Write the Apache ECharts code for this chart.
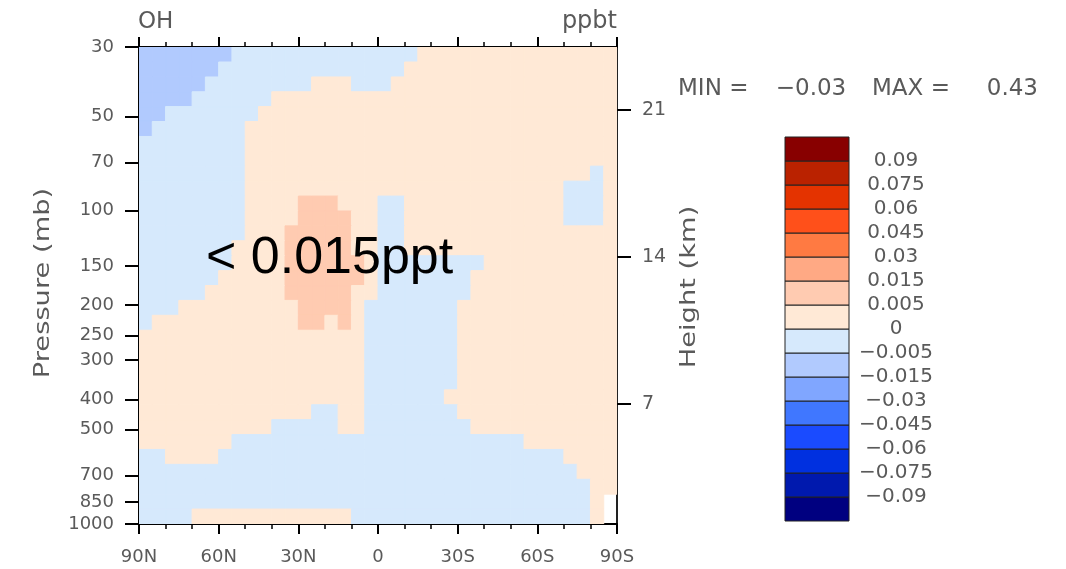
<!DOCTYPE html>
<html><head><meta charset="utf-8">
<script src="https://cdn.jsdelivr.net/npm/echarts@6/dist/echarts.min.js"></script>
<style>html,body{margin:0;padding:0;background:#fff}#c{width:1066px;height:569px}</style>
</head><body><div id="c"></div>
<script>
// ---- data ----
const latCenters = [87.5,82.5,77.5,72.5,67.5,62.5,57.5,52.5,47.5,42.5,37.5,32.5,27.5,22.5,17.5,12.5,7.5,2.5,
  -2.5,-7.5,-12.5,-17.5,-22.5,-27.5,-32.5,-37.5,-42.5,-47.5,-52.5,-57.5,-62.5,-67.5,-72.5,-77.5,-82.5,-87.5];
const pressureCenters = [31.7,35.4,39.5,44.0,49.1,54.8,61.2,68.2,76.1,85.0,94.8,105.8,118.0,131.7,147.0,164.0,
  183.0,204.1,227.8,254.2,283.6,316.4,353.1,393.9,439.6,490.5,547.3,610.6,681.4,760.3,848.3,946.6];
// OH difference (ppbt), rows = pressureCenters (top to bottom), columns = latCenters (90N to 90S)
const ohField = [
[-.01,-.01,-.01,-.01,-.01,-.01,-.01, -.002,-.002,-.002,-.002,-.002, -.002,-.002,-.002,-.002,-.002, -.002,-.002,-.002,-.002, .003,.003,.003,.003,.003, .003,.003,.003,.003,.003, .003,.003,.003,.003,.003],
[-.01,-.01,-.01,-.01,-.01,-.01, -.002,-.002,-.002,-.002,-.002, -.002,-.002,-.002,-.002,-.002, -.002,-.002,-.002,-.002, .003,.003,.003,.003,.003, .003,.003,.003,.003,.003, .003,.003,.003,.003,.003, .003],
[-.01,-.01,-.01,-.01,-.01, -.002,-.002,-.002,-.002,-.002, -.002,-.002,-.002, .003,.003,.003, -.002,-.002,-.002, .003,.003,.003,.003,.003, .003,.003,.003,.003,.003, .003,.003,.003,.003,.003, .003,.003],
[-.01,-.01,-.01,-.01, -.002,-.002,-.002,-.002,-.002, -.002, .003,.003,.003,.003,.003, .003,.003,.003,.003,.003, .003,.003,.003,.003,.003, .003,.003,.003,.003,.003, .003,.003,.003,.003,.003, .003],
[-.01,-.01, -.002,-.002,-.002,-.002,-.002, -.002,-.002, .003,.003,.003,.003,.003, .003,.003,.003,.003,.003, .003,.003,.003,.003,.003, .003,.003,.003,.003,.003, .003,.003,.003,.003,.003, .003,.003],
[-.01, -.002,-.002,-.002,-.002,-.002, -.002,-.002, .003,.003,.003,.003,.003, .003,.003,.003,.003,.003, .003,.003,.003,.003,.003, .003,.003,.003,.003,.003, .003,.003,.003,.003,.003, .003,.003,.003],
[-.002,-.002,-.002,-.002,-.002, -.002,-.002,-.002, .003,.003,.003,.003,.003, .003,.003,.003,.003,.003, .003,.003,.003,.003,.003, .003,.003,.003,.003,.003, .003,.003,.003,.003,.003, .003,.003,.003],
[-.002,-.002,-.002,-.002,-.002, -.002,-.002,-.002, .003,.003,.003,.003,.003, .003,.003,.003,.003,.003, .003,.003,.003,.003,.003, .003,.003,.003,.003,.003, .003,.003,.003,.003,.003, .003,.003,.003],
[-.002,-.002,-.002,-.002,-.002, -.002,-.002,-.002, .003,.003,.003,.003,.003, .003,.003,.003,.003,.003, .003,.003,.003,.003,.003, .003,.003,.003,.003,.003, .003,.003,.003,.003,.003, .003, -.002, .003],
[-.002,-.002,-.002,-.002,-.002, -.002,-.002,-.002, .003,.003,.003,.003,.003, .003,.003,.003,.003,.003, .003,.003,.003,.003,.003, .003,.003,.003,.003,.003, .003,.003,.003,.003, -.002,-.002,-.002, .003],
[-.002,-.002,-.002,-.002,-.002, -.002,-.002,-.002, .003,.003,.003,.003, .01,.01,.01, .003,.003,.003, -.002,-.002, .003,.003,.003,.003,.003, .003,.003,.003,.003,.003, .003,.003, -.002,-.002,-.002, .003],
[-.002,-.002,-.002,-.002,-.002, -.002,-.002,-.002, .003,.003,.003,.003, .01,.01,.01,.01, .003,.003, -.002,-.002, .003,.003,.003,.003,.003, .003,.003,.003,.003,.003, .003,.003, -.002,-.002,-.002, .003],
[-.002,-.002,-.002,-.002,-.002, -.002,-.002,-.002, .003,.003,.003, .01,.01,.01,.01,.01, .003,.003, -.002,-.002, .003,.003,.003,.003,.003, .003,.003,.003,.003,.003, .003,.003,.003,.003,.003, .003],
[-.002,-.002,-.002,-.002,-.002, -.002,-.002, .003,.003,.003,.003, .01,.01,.01,.01,.01, .003,.003, -.002,-.002, .003,.003,.003,.003,.003, .003,.003,.003,.003,.003, .003,.003,.003,.003,.003, .003],
[-.002,-.002,-.002,-.002,-.002, -.002,-.002, .003,.003,.003,.003, .01,.01,.01,.01,.01,.01, .003, -.002,-.002,-.002,-.002,-.002, -.002,-.002,-.002, .003,.003,.003,.003,.003, .003,.003,.003,.003,.003],
[-.002,-.002,-.002,-.002,-.002, -.002, .003,.003,.003,.003,.003, .01,.01,.01,.01,.01,.01, .003, -.002,-.002,-.002,-.002,-.002, -.002,-.002, .003,.003,.003,.003,.003, .003,.003,.003,.003,.003, .003],
[-.002,-.002,-.002,-.002,-.002, .003,.003,.003,.003,.003, .003, .01,.01,.01,.01,.01, .003,.003, -.002,-.002,-.002,-.002,-.002, -.002,-.002, .003,.003,.003,.003,.003, .003,.003,.003,.003,.003, .003],
[-.002,-.002,-.002, .003,.003,.003,.003,.003, .003,.003,.003,.003, .01,.01,.01,.01, .003, -.002,-.002,-.002,-.002,-.002, -.002,-.002, .003,.003,.003,.003,.003, .003,.003,.003,.003,.003, .003,.003],
[-.002, .003,.003,.003,.003,.003, .003,.003,.003,.003,.003, .003, .01,.01, .003, .01, .003, -.002,-.002,-.002,-.002,-.002, -.002,-.002, .003,.003,.003,.003,.003, .003,.003,.003,.003,.003, .003,.003],
[.003,.003,.003,.003,.003, .003,.003,.003,.003,.003, .003,.003,.003,.003,.003, .003,.003, -.002,-.002,-.002,-.002,-.002, -.002,-.002, .003,.003,.003,.003,.003, .003,.003,.003,.003,.003, .003,.003],
[.003,.003,.003,.003,.003, .003,.003,.003,.003,.003, .003,.003,.003,.003,.003, .003,.003, -.002,-.002,-.002,-.002,-.002, -.002,-.002, .003,.003,.003,.003,.003, .003,.003,.003,.003,.003, .003,.003],
[.003,.003,.003,.003,.003, .003,.003,.003,.003,.003, .003,.003,.003,.003,.003, .003,.003, -.002,-.002,-.002,-.002,-.002, -.002,-.002, .003,.003,.003,.003,.003, .003,.003,.003,.003,.003, .003,.003],
[.003,.003,.003,.003,.003, .003,.003,.003,.003,.003, .003,.003,.003,.003,.003, .003,.003, -.002,-.002,-.002,-.002,-.002, -.002,-.002, .003,.003,.003,.003,.003, .003,.003,.003,.003,.003, .003,.003],
[.003,.003,.003,.003,.003, .003,.003,.003,.003,.003, .003,.003,.003,.003,.003, .003,.003, -.002,-.002,-.002,-.002,-.002, -.002, .003,.003,.003,.003,.003, .003,.003,.003,.003,.003, .003,.003,.003],
[.003,.003,.003,.003,.003, .003,.003,.003,.003,.003, .003,.003,.003, -.002,-.002, .003,.003, -.002,-.002,-.002,-.002,-.002, -.002,-.002, .003,.003,.003,.003,.003, .003,.003,.003,.003,.003, .003,.003],
[.003,.003,.003,.003,.003, .003,.003,.003,.003,.003, -.002,-.002,-.002,-.002,-.002, .003,.003, -.002,-.002,-.002,-.002,-.002, -.002,-.002,-.002, .003,.003,.003,.003,.003, .003,.003,.003,.003,.003, .003],
[.003,.003,.003,.003,.003, .003,.003, -.002,-.002,-.002,-.002,-.002, -.002,-.002,-.002,-.002,-.002, -.002,-.002,-.002,-.002,-.002, -.002,-.002,-.002,-.002,-.002, -.002,-.002, .003,.003,.003,.003,.003, .003,.003],
[-.002,-.002, .003,.003,.003,.003, -.002,-.002,-.002,-.002,-.002, -.002,-.002,-.002,-.002,-.002, -.002,-.002,-.002,-.002,-.002, -.002,-.002,-.002,-.002,-.002, -.002,-.002,-.002,-.002,-.002, -.002, .003,.003,.003,.003],
[-.002,-.002,-.002,-.002,-.002, -.002,-.002,-.002,-.002,-.002, -.002,-.002,-.002,-.002,-.002, -.002,-.002,-.002,-.002,-.002, -.002,-.002,-.002,-.002,-.002, -.002,-.002,-.002,-.002,-.002, -.002,-.002,-.002, .003,.003,.003],
[-.002,-.002,-.002,-.002,-.002, -.002,-.002,-.002,-.002,-.002, -.002,-.002,-.002,-.002,-.002, -.002,-.002,-.002,-.002,-.002, -.002,-.002,-.002,-.002,-.002, -.002,-.002,-.002,-.002,-.002, -.002,-.002,-.002,-.002, .003,.003],
[-.002,-.002,-.002,-.002,-.002, -.002,-.002,-.002,-.002,-.002, -.002,-.002,-.002,-.002,-.002, -.002,-.002,-.002,-.002,-.002, -.002,-.002,-.002,-.002,-.002, -.002,-.002,-.002,-.002,-.002, -.002,-.002,-.002,-.002, .003, null],
[-.002,-.002,-.002,-.002, .003,.003,.003,.003,.003, .003,.003,.003,.003,.003, .003,.003, -.002,-.002,-.002,-.002,-.002, -.002,-.002,-.002,-.002,-.002, -.002,-.002,-.002,-.002,-.002, -.002,-.002,-.002, .003, null]
];
const pressureTicks = [30,50,70,100,150,200,250,300,400,500,700,850,1000];
const heightTicks = [7,14,21];
const levelBounds = [-0.09,-0.075,-0.06,-0.045,-0.03,-0.015,-0.005,0,0.005,0.015,0.03,0.045,0.06,0.075,0.09];
const levelColors = ['#000080','#0019AE','#0030E0','#1A4BFF','#4077FF','#80A6FF','#B1CAFE','#D6E9FC',
  '#FFE9D6','#FFCBB1','#FFA984','#FF7A42','#FF501A','#E43300','#BA2200','#880000'];
const fieldMin = -0.03, fieldMax = 0.43;
const annotation = '< 0.015ppt';

// ---- build ----
const log10 = Math.log10;
function edgesFrom(c){
  const n=c.length, e=[c[0]-(c[1]-c[0])/2];
  for(let k=1;k<n;k++) e.push((c[k-1]+c[k])/2);
  e.push(c[n-1]+(c[n-1]-c[n-2])/2);
  return e;
}
const lpCenters = pressureCenters.map(log10);
const latEdges = edgesFrom(latCenters);
const lpEdges = edgesFrom(lpCenters);
function colorOf(v){ let k=0; while(k<levelBounds.length && v>=levelBounds[k]) k++; return levelColors[k]; }
function fmtNum(v){ return String(v).replace('-', '\u2212'); }

const fieldData = [];
ohField.forEach((row,j)=>row.forEach((v,i)=>{ if(v!==null) fieldData.push([latCenters[i], lpCenters[j], v, i, j]); }));
const barData = levelColors.map((c,k)=>[0,k]);

const FONT = 'DejaVu Sans';
const GRAY = '#5a5a5a';
const lab = {fontFamily:FONT, fontSize:18, color:GRAY};

const chart = echarts.init(document.getElementById('c'), null, {renderer:'canvas'});
function txt(text,x,y,size,align,extra){
  return Object.assign({type:'text', x:x, y:y, silent:true,
    style:{text:text, fill:GRAY, font:size+'px "'+FONT+'"', align:align, textAlign:align,
      verticalAlign:'middle', textVerticalAlign:'middle'}}, extra||{});
}
const option = {
  animation:false,
  backgroundColor:'#fff',
  grid:[
    {left:139, top:47, width:478, height:477},
    {left:785, top:137, width:64, height:384}
  ],
  xAxis:[
    {gridIndex:0, type:'value', min:-90, max:90, interval:30, inverse:true, position:'bottom',
      axisLine:{onZero:false, lineStyle:{color:'#000', width:2}},
      axisTick:{length:10, lineStyle:{color:'#000', width:2}},
      minorTick:{show:true, splitNumber:3, length:5, lineStyle:{color:'#000', width:1.5}},
      splitLine:{show:false},
      axisLabel:Object.assign({margin:24, formatter:v=>v===0?'0':(v>0?v+'N':(-v)+'S')}, lab)},
    {gridIndex:0, type:'value', min:-90, max:90, interval:30, inverse:true, position:'top',
      axisLine:{onZero:false, lineStyle:{color:'#000', width:2}},
      axisTick:{length:10, lineStyle:{color:'#000', width:2}},
      minorTick:{show:true, splitNumber:3, length:5, lineStyle:{color:'#000', width:1.5}},
      splitLine:{show:false}, axisLabel:{show:false}},
    {gridIndex:1, type:'value', min:0, max:1, show:false}
  ],
  yAxis:[
    {gridIndex:0, type:'value', min:log10(30), max:3, inverse:true, position:'left',
      axisLine:{onZero:false, lineStyle:{color:'#000', width:2}},
      axisTick:{length:14, customValues:pressureTicks.map(log10), lineStyle:{color:'#000', width:2}},
      splitLine:{show:false},
      axisLabel:Object.assign({margin:25, customValues:pressureTicks.map(log10),
        formatter:v=>String(Math.round(Math.pow(10,v)))}, lab)},
    {gridIndex:0, type:'value', min:1.286, max:24.0, position:'right',
      axisLine:{onZero:false, lineStyle:{color:'#222', width:2}},
      axisTick:{length:14, customValues:heightTicks, lineStyle:{color:'#000', width:2}},
      splitLine:{show:false},
      axisLabel:Object.assign({margin:25, customValues:heightTicks, formatter:v=>String(v)}, lab, {fontSize:19})},
    {gridIndex:1, type:'value', min:0, max:16, position:'right',
      axisLine:{show:false}, axisTick:{show:false}, splitLine:{show:false},
      axisLabel:Object.assign({margin:47, align:'center', hideOverlap:false,
        customValues:levelBounds.map((b,k)=>k+1),
        formatter:v=>fmtNum(levelBounds[Math.round(v)-1])}, lab, {fontSize:20})}
  ],
  series:[
    {type:'custom', xAxisIndex:0, yAxisIndex:0, clip:true, data:fieldData,
      encode:{x:0, y:1},
      renderItem:function(params, api){
        const i=api.value(3), j=api.value(4), v=api.value(2);
        const p1=api.coord([latEdges[i], lpEdges[j]]);
        const p2=api.coord([latEdges[i+1], lpEdges[j+1]]);
        const c=colorOf(v);
        return {type:'rect', shape:{x:Math.min(p1[0],p2[0]), y:Math.min(p1[1],p2[1]),
          width:Math.abs(p2[0]-p1[0]), height:Math.abs(p2[1]-p1[1])},
          style:{fill:c, stroke:c, lineWidth:1}};
      }},
    {type:'custom', xAxisIndex:2, yAxisIndex:2, data:barData, encode:{x:0, y:1},
      renderItem:function(params, api){
        const k=api.value(1);
        const p1=api.coord([0,k]), p2=api.coord([1,k+1]);
        return {type:'rect', shape:{x:p1[0], y:p2[1], width:p2[0]-p1[0], height:p1[1]-p2[1]},
          style:{fill:levelColors[k], stroke:'#222', lineWidth:1}};
      }}
  ],
  graphic:{elements:[
    txt('OH', 138, 22, 23, 'left'),
    txt('ppbt', 617, 22, 24, 'right'),
    txt('MIN =', 678, 89, 23, 'left'),
    txt(fmtNum(fieldMin), 811, 89, 23, 'center'),
    txt('MAX =', 872, 89, 23, 'left'),
    txt(String(fieldMax), 1038, 89, 23, 'right'),
    txt('Pressure (mb)', 44, 283, 21, 'center', {rotation:Math.PI/2, scaleX:1.3}),
    txt('Height (km)', 690, 287, 21, 'center', {rotation:Math.PI/2, scaleX:1.3}),
    {type:'text', x:206, y:259, silent:true, z:100,
      style:{text:annotation, fill:'#000', font:'52px "Liberation Sans"', align:'left', textAlign:'left',
        verticalAlign:'middle', textVerticalAlign:'middle'}}
  ]}
};
chart.setOption(option);
</script></body></html>
